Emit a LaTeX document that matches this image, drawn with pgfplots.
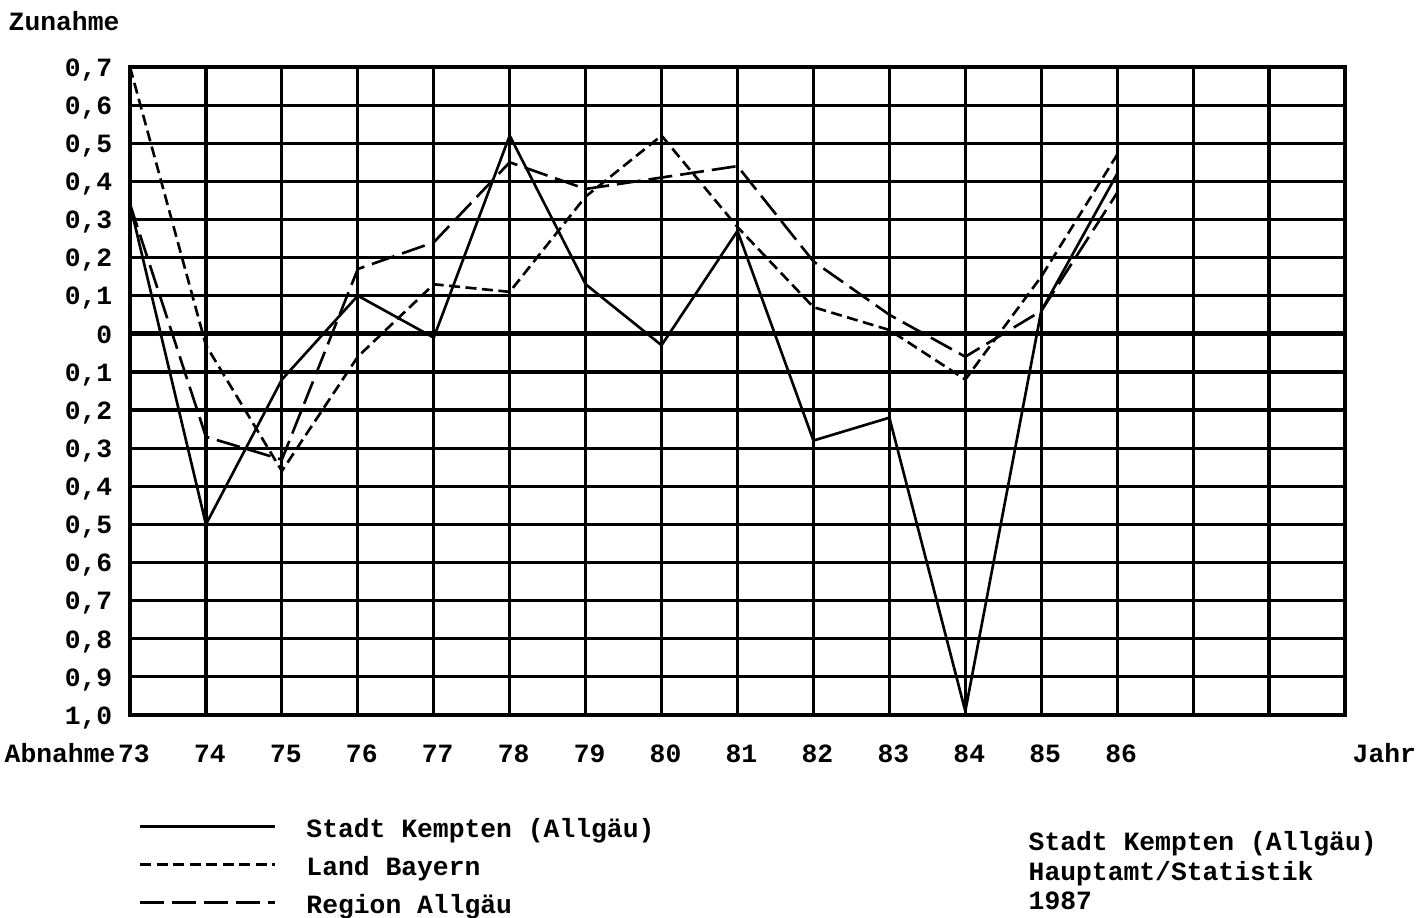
\documentclass[border=0pt]{standalone}
\usepackage{pgfplots}
\pgfplotsset{compat=1.18}
\usepackage{fontspec}
\setmainfont{Liberation Mono}
\newcommand\fs{\fontsize{7.5}{9}\selectfont\bfseries}
\begin{document}
\begin{tikzpicture}
\useasboundingbox (-13mm,-20.3mm) rectangle (129.8mm,71.5mm);
\begin{axis}[
  at={(0,0)}, anchor=south west,
  scale only axis, width=121.5mm, height=64.8mm,
  xmin=73, xmax=89, ymin=-1, ymax=0.7,
  font=\fs,
  xtick={73,74,75,76,77,78,79,80,81,82,83,84,85,86,87,88,89},
  xticklabels={73,74,75,76,77,78,79,80,81,82,83,84,85,86,,,},
  ytick={-1,-0.9,-0.8,-0.7,-0.6,-0.5,-0.4,-0.3,-0.2,-0.1,0,0.1,0.2,0.3,0.4,0.5,0.6,0.7},
  yticklabels={{1,0},{0,9},{0,8},{0,7},{0,6},{0,5},{0,4},{0,3},{0,2},{0,1},0,{0,1},{0,2},{0,3},{0,4},{0,5},{0,6},{0,7}},
  major tick length=0pt,
  xmajorgrids, ymajorgrids,
  grid style={black, line width=0.9pt},
  axis line style={black, line width=1.2pt},
  x tick label style={font=\fs, anchor=base, inner sep=0pt, yshift=-4.8mm, xshift=0.4mm},
  y tick label style={font=\fs, anchor=mid east, inner sep=0pt, xshift=-1.7mm},
  extra y ticks={0}, extra y tick labels={},
  extra y tick style={grid style={black, line width=1.4pt}},
  legend image code/.code={\draw[#1] (0mm,0.4mm) -- (13.5mm,0.4mm);},
  legend style={draw=none, fill=none, at={(-0.002,-0.145)}, anchor=north west,
    font=\fs, row sep=1.0mm, column sep=0pt,
    nodes={inner sep=0pt, text height=2.1mm, text depth=0.7mm},
    /tikz/every odd column/.append style={column sep=3mm}},
  legend cell align=left,
]
\addplot[black, line width=0.75pt] coordinates {
 (73,0.34) (74,-0.50) (75,-0.12) (76,0.10) (77,-0.01) (78,0.52) (79,0.13)
 (80,-0.03) (81,0.27) (82,-0.28) (83,-0.22) (84,-0.99) (85,0.06) (86,0.42)};
\addlegendentry{Stadt Kempten (Allgäu)}
\addplot[black, line width=0.75pt, dash pattern=on 1.1mm off 0.55mm] coordinates {
 (73,0.70) (74,-0.03) (75,-0.36) (76,-0.06) (77,0.13) (78,0.11) (79,0.36)
 (80,0.52) (81,0.28) (82,0.07) (83,0.01) (84,-0.12) (85,0.15) (86,0.47)};
\addlegendentry{Land Bayern}
\addplot[black, line width=0.75pt, dash pattern=on 2.4mm off 0.8mm] coordinates {
 (73,0.34) (74,-0.27) (75,-0.33) (76,0.17) (77,0.24) (78,0.45) (79,0.38)
 (80,0.41) (81,0.44) (82,0.19) (83,0.05) (84,-0.06) (85,0.06) (86,0.37)};
\addlegendentry{Region Allgäu}
\end{axis}
\node[font=\fs, anchor=base west, inner sep=0pt] at (-12.2mm,68.4mm) {Zunahme};
\node[font=\fs, anchor=base west, inner sep=0pt] at (-12.6mm,-4.8mm) {Abnahme};
\node[font=\fs, anchor=base west, inner sep=0pt] at (122.2mm,-4.8mm) {Jahr};
\node[font=\fs, anchor=base west, inner sep=0pt] at (89.8mm,-13.6mm) {Stadt Kempten (Allgäu)};
\node[font=\fs, anchor=base west, inner sep=0pt] at (89.8mm,-16.6mm) {Hauptamt/Statistik};
\node[font=\fs, anchor=base west, inner sep=0pt] at (89.8mm,-19.5mm) {1987};
\end{tikzpicture}
\end{document}
